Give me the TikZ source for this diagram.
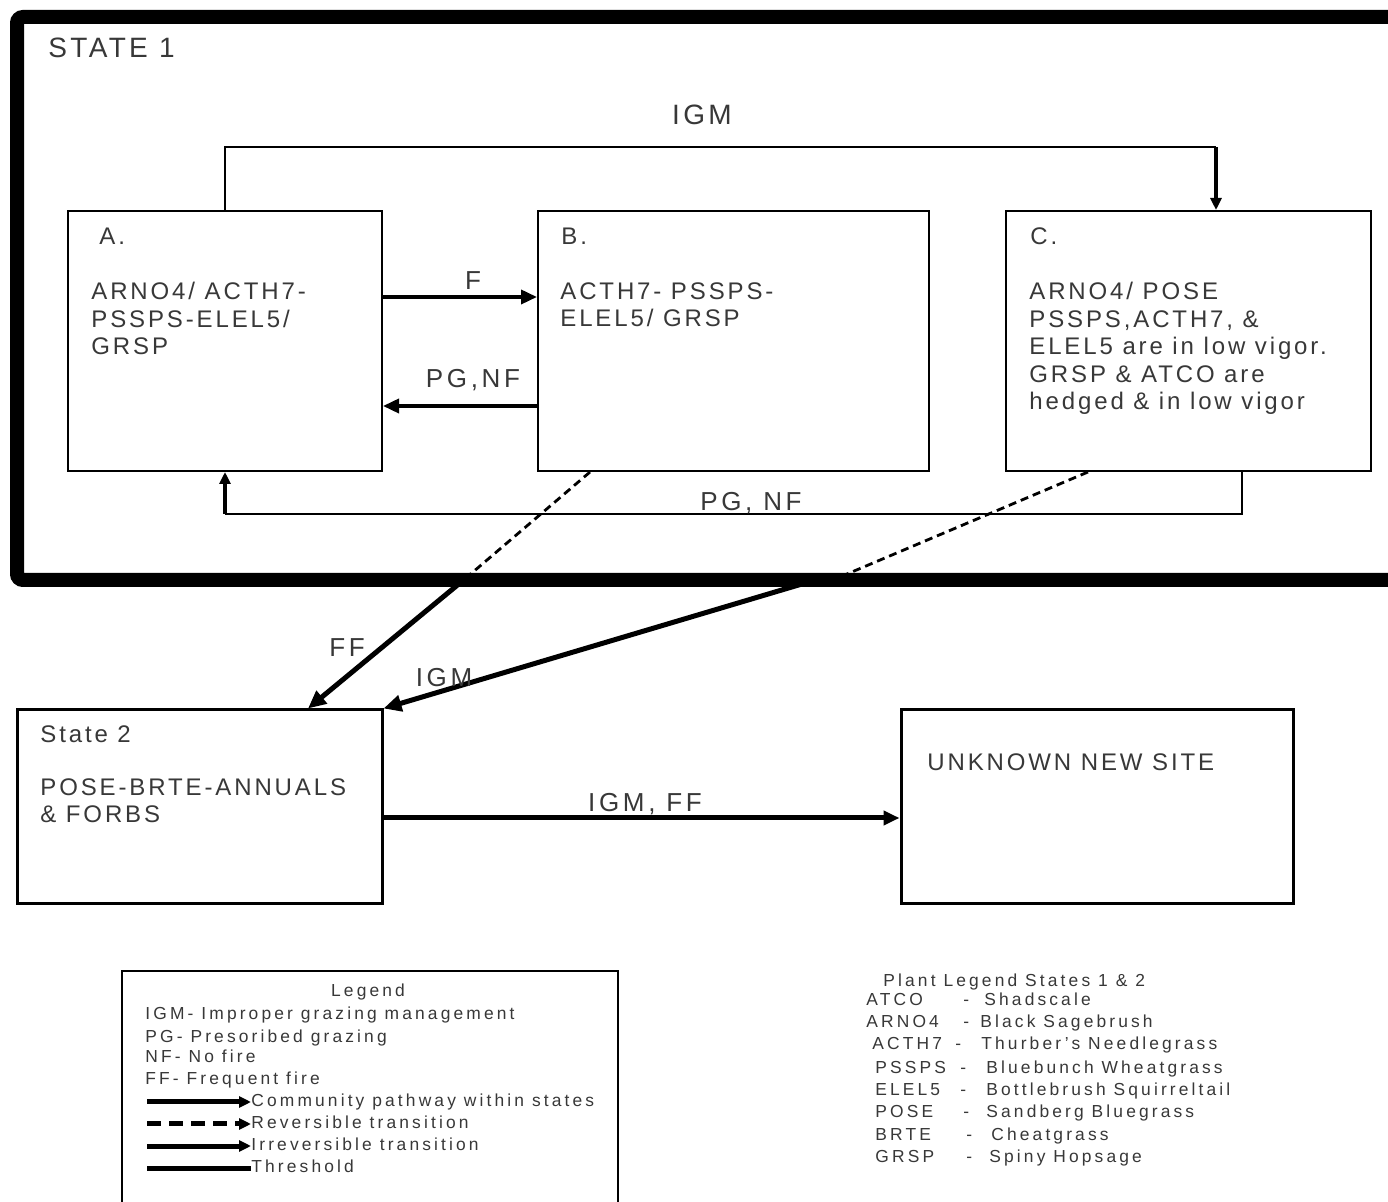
\documentclass[tikz,border=0pt]{standalone}
\usepackage{fontspec}
\setmainfont{Liberation Sans}
\usetikzlibrary{arrows.meta}
\definecolor{txt}{HTML}{383838}
\begin{document}
\begin{tikzpicture}[x=0.5pt,y=-0.5pt,
  box/.style={draw=black,line width=1pt,inner sep=0,minimum height=130pt},
  boxb/.style={draw=black,line width=1.5pt,inner sep=0,minimum height=97pt},
  boxtxt/.style={font=\fontsize{12}{13.75}\selectfont\addfontfeature{LetterSpace=12},text=txt,inner sep=0,align=left,anchor=north west},
  lbl/.style={font=\fontsize{13}{15}\selectfont\addfontfeature{LetterSpace=14},text=txt,inner sep=0,anchor=base},
  lbig/.style={font=\fontsize{14}{16}\selectfont\addfontfeature{LetterSpace=12},text=txt,inner sep=0},
  legtxt/.style={font=\fontsize{8.7}{10}\selectfont\addfontfeature{LetterSpace=18},text=txt,inner sep=0,anchor=base west},
  thinc/.style={draw=black,line width=1pt},
  medc/.style={draw=black,line width=1.8pt},
  bigc/.style={draw=black,line width=2.5pt},
  dashc/.style={draw=black,line width=1.4pt,dash pattern=on 4pt off 2.5pt},
  tipS/.style={-{Triangle[length=6pt,width=5.5pt]}},
  tipM/.style={-{Triangle[length=8pt,width=7pt]}},
  tipL/.style={-{Triangle[length=9pt,width=8pt]}}
]
\useasboundingbox (0,0) rectangle (1388,1202);
\clip (0,0) rectangle (1388,1202);
\fill[white] (0,0) rectangle (1388,1202);

% State 1 frame
\draw[line width=7pt,rounded corners=3pt] (1430,580) -| (17,17) -- (1430,17);
\node[lbig,anchor=north west] (st1) at (48,38) {STATE 1};

% community boxes
\node[box,minimum width=157pt] (A) at (225,341) {};
\node[box,minimum width=195.5pt] (B) at (733.5,341) {};
\node[box,minimum width=182.5pt] (C) at (1188.5,341) {};

\node[boxtxt] (Ah) at (99,228) {A.};
\node[boxtxt] (At) at (91,282) {ARNO4/ ACTH7-\\PSSPS-ELEL5/\\GRSP};
\node[boxtxt] (Bh) at (561,228) {B.};
\node[boxtxt] (Bt) at (560,282) {ACTH7- PSSPS-\\ELEL5/ GRSP};
\node[boxtxt] (Ch) at (1030,227) {C.};
\node[boxtxt] (Ct) at (1029,282) {ARNO4/ POSE\\PSSPS,ACTH7, \&\\ELEL5 are in low vigor.\\GRSP \& ATCO are\\hedged \& in low vigor};

% State 2 and unknown site
\node[boxb,minimum width=182.5pt] (S2) at (199.5,807) {};
\node[boxb,minimum width=196pt] (U) at (1097,807) {};
\node[boxtxt] (S2h) at (40,725) {State 2};
\node[boxtxt] (S2t) at (40,778) {POSE-BRTE-ANNUALS\\\& FORBS};
\node[boxtxt] (Ut) at (927,753) {UNKNOWN NEW SITE};

% IGM top
\coordinate (igmk) at (1216,147);
\draw[thinc] (A.north) |- (igmk);
\draw[medc,tipS] (igmk) -- (igmk |- C.north);
\node[lbig,anchor=base] (lIGM) at (702,125) {IGM};

% F and PG,NF
\draw[medc,tipM] ([yshift=22pt]A.east) -- ([yshift=22pt]B.west);
\node[lbl] (lF) at (473,290) {F};
\draw[medc,tipM] ([yshift=-32.5pt]B.west) -- ([yshift=-32.5pt]A.east);
\node[lbl] (lPG1) at (473,388) {PG,NF};

% PG, NF bottom
\coordinate (pgk) at (225,514);
\draw[thinc] ([xshift=26.75pt]C.south) |- (pgk);
\draw[medc,tipS] (pgk) -- (A.south);
\node[lbl] (lPG2) at (751,511) {PG, NF};

% transitions to State 2
\coordinate (x1) at (466,578);
\draw[dashc] ([xshift=-71.75pt]B.south) -- (x1);
\draw[bigc,tipL] (x1) -- ([xshift=54.25pt]S2.north);
\node[lbl] (lFF) at (347,657) {FF};
\coordinate (x2a) at (840,577);
\coordinate (x2b) at (812,581);
\draw[dashc] ([xshift=-50.25pt]C.south) -- (x2a);
\draw[bigc,tipL] (x2b) -- (S2.north east);
\node[lbl] (lIGM2) at (444,687) {IGM};

% IGM, FF
\draw[bigc,tipM] ([yshift=-5.5pt]S2.east) -- ([yshift=-5.5pt]U.west);
\node[lbl] (lIGMFF) at (645,812) {IGM, FF};

% Legend
\node[draw,line width=1pt,minimum width=248pt,minimum height=121pt,inner sep=0] (L) at (370,1092) {};
\node[legtxt,anchor=base] (Lt) at (368,997) {Legend};
\node[legtxt] (L1) at (145,1020) {IGM- Improper grazing management};
\node[legtxt] (L2) at (145,1043) {PG- Presoribed grazing};
\node[legtxt] (L3) at (145,1063) {NF- No fire};
\node[legtxt] (L4) at (145,1085) {FF- Frequent fire};
\node[legtxt] (La) at (251,1107) {Community pathway within states};
\node[legtxt] (Lb) at (251,1129) {Reversible transition};
\node[legtxt] (Lc) at (251,1151) {Irreversible transition};
\node[legtxt] (Ld) at (251,1173) {Threshold};
\coordinate (ka) at (147,1102);
\coordinate (kb) at (147,1124);
\coordinate (kc) at (147,1146);
\coordinate (kd) at (147,1168);
\draw[bigc,tipS] (ka) -- (ka -| La.west);
\draw[bigc,dash pattern=on 7pt off 4pt,tipS] (kb) -- (kb -| Lb.west);
\draw[bigc,tipS] (kc) -- (kc -| Lc.west);
\draw[bigc] (kd) -- (kd -| Ld.west);

% Plant legend
\node[legtxt] (P0) at (883,987) {Plant Legend States 1 \& 2};
\foreach \i/\y/\cx/\cd/\dx/\nx/\nm in {
  1/1006/866/ATCO/963/984/Shadscale,
  2/1028/866/ARNO4/963/980/Black Sagebrush,
  3/1050/872/ACTH7/955/981/Thurber's Needlegrass,
  4/1073/875/PSSPS/960/986/Bluebunch Wheatgrass,
  5/1095/875/ELEL5/960/986/Bottlebrush Squirreltail,
  6/1117/875/POSE/963/986/Sandberg Bluegrass,
  7/1140/875/BRTE/966/991/Cheatgrass,
  8/1162/875/GRSP/966/989/Spiny Hopsage}{
  \node[legtxt] (pc\i) at (\cx,\y) {\cd};
  \node[legtxt] (pd\i) at (\dx,\y) {-};
  \node[legtxt] (pn\i) at (\nx,\y) {\nm};
}
\end{tikzpicture}
\end{document}
